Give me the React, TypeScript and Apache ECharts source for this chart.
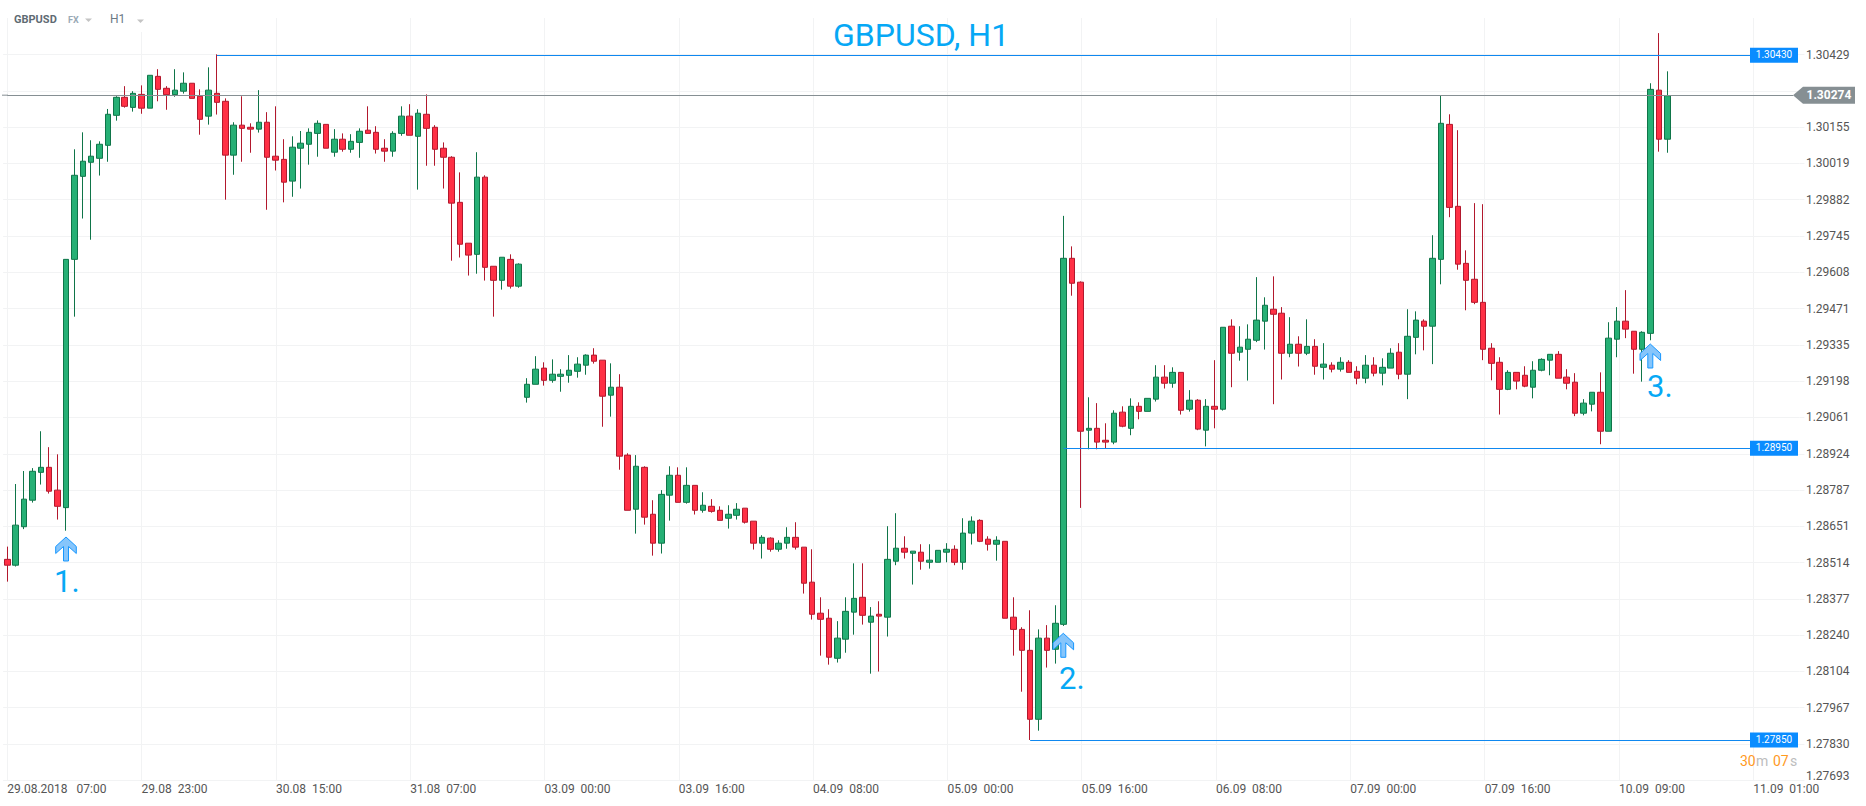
import React, { useEffect, useRef } from "react";
import * as echarts from "echarts";

// Prices are stored in points (1/100000).
const opens = [
128526,128504,128649,128749,128854,128873,128787,128721,129657,129970,
130023,130038,130087,130200,130268,130230,130279,130227,130347,130302,
130278,130291,130321,130272,130197,130283,130253,130050,130163,130155,
130148,130174,130046,130034,129952,130076,130091,130132,130166,130061,
130110,130072,130098,130144,130136,130076,130065,130132,130197,130121,
130204,130155,130076,130042,129872,129718,129676,129967,129631,129578,
129657,129556,129137,129186,129247,129201,129216,129220,129235,129258,
129296,129277,129145,129175,128919,128715,128873,128696,128587,128768,
128843,128741,128805,128711,128726,128711,128681,128692,128719,128670,
128587,128606,128564,128587,128609,128572,128440,128323,128304,128153,
128225,128327,128383,128289,128319,128308,128519,128568,128549,128553,
128515,128515,128553,128564,128515,128625,128673,128602,128583,128594,
128308,128262,128183,127923,128229,128187,128281,129661,129571,129013,
129020,128975,128968,129081,129020,129103,129084,129130,129213,129190,
129231,129092,129126,129013,129103,129092,129405,129307,129318,129352,
129424,129469,129454,129303,129337,129303,129329,129250,129258,129243,
129269,129235,129209,129258,129228,129247,129307,129224,129363,129424,
129405,129657,130166,129857,129642,129582,129495,129322,129269,129167,
129231,129220,129175,129239,129277,129299,129213,129194,129077,129111,
129156,129009,129356,129424,129386,129318,129378,130295,130110
];
const closes = [
128504,128655,128753,128858,128873,128783,128726,129657,129974,130027,
130046,130091,130204,130268,130234,130283,130227,130351,130298,130278,
130295,130321,130264,130185,130295,130249,130050,130163,130151,130148,
130174,130042,130031,129948,130080,130095,130136,130170,130076,130110,
130072,130102,130140,130132,130072,130065,130132,130197,130125,130208,
130151,130072,130042,129869,129714,129673,129967,129627,129578,129665,
129556,129639,129186,129243,129201,129224,129224,129239,129262,129296,
129273,129141,129175,128915,128711,128877,128685,128587,128771,128843,
128741,128805,128711,128730,128707,128673,128696,128715,128666,128587,
128609,128564,128587,128609,128572,128436,128319,128300,128157,128229,
128330,128379,128315,128312,128312,128526,128568,128553,128557,128519,
128523,128560,128564,128515,128625,128670,128594,128583,128598,128304,
128262,128183,127923,128229,128183,128285,129661,129567,129009,129020,
128968,128968,129077,129028,129103,129084,129133,129213,129190,129231,
129088,129126,129017,129103,129092,129401,129303,129326,129356,129428,
129484,129450,129303,129337,129303,129329,129254,129262,129243,129269,
129231,129209,129258,129228,129250,129303,129224,129367,129428,129405,
129661,130170,129853,129639,129578,129495,129318,129265,129167,129231,
129198,129179,129239,129280,129299,129209,129190,129077,129115,129156,
129009,129360,129424,129394,129318,129382,130298,130110,130274
];
const highs = [
128574,128810,128859,128870,129009,128949,128922,129657,130072,130136,
130106,130102,130224,130272,130310,130291,130313,130351,130374,130310,
130374,130362,130321,130298,130381,130430,130264,130174,130272,130170,
130295,130212,130234,130110,130121,130141,130151,130181,130166,130148,
130132,130129,130151,130234,130159,130110,130140,130234,130242,130223,
130279,130163,130098,130046,129985,129718,130061,129974,129631,129665,
129676,129642,129209,129292,129269,129280,129243,129296,129288,129299,
129322,129277,129265,129224,128926,128919,128877,128749,128787,128877,
128873,128873,128805,128779,128753,128726,128730,128738,128719,128670,
128617,128609,128598,128647,128666,128572,128564,128383,128338,128293,
128383,128511,128511,128346,128368,128651,128700,128613,128557,128583,
128583,128560,128587,128579,128681,128688,128677,128613,128613,128594,
128383,128270,128334,128262,128278,128353,129821,129706,129574,129137,
129115,129039,129088,129103,129133,129118,129133,129258,129258,129250,
129231,129164,129130,129130,129277,129401,129431,129405,129412,129590,
129514,129593,129477,129439,129367,129431,129356,129341,129269,129288,
129277,129254,129296,129288,129284,129322,129341,129469,129461,129431,
129748,130273,130204,130144,129691,129869,129865,129341,129288,129239,
129231,129254,129273,129284,129299,129311,129243,129228,129130,129156,
129231,129420,129477,129541,129386,129386,130321,130510,130366
];
const lows = [
128442,128499,128640,128740,128808,128774,128676,128634,129441,129811,
129731,129973,130025,130180,130229,130214,130206,130227,130253,130221,
130270,130282,130264,130127,130165,130203,129882,129976,130025,130059,
130135,129844,129992,129872,129893,129924,130014,130044,130076,130044,
130063,130059,130040,130132,130056,130025,130044,130123,130125,129920,
130010,130010,129924,129652,129664,129596,129603,129577,129441,129543,
129547,129550,129117,129186,129181,129192,129158,129192,129211,129222,
129264,129026,129064,128864,128711,128623,128657,128540,128548,128672,
128741,128736,128695,128702,128702,128673,128642,128676,128661,128563,
128529,128555,128555,128566,128563,128397,128299,128163,128129,128137,
128174,128242,128280,128095,128103,128235,128504,128529,128431,128487,
128491,128515,128515,128504,128487,128582,128591,128559,128521,128304,
128163,128027,127845,127880,128118,128133,128275,129520,128720,128941,
128941,128945,128960,129024,128994,129054,129084,129121,129170,129173,
129072,129083,129013,128952,129020,129087,129175,129275,129200,129345,
129317,129111,129204,129288,129253,129296,129222,129204,129231,129234,
129231,129186,129190,129216,129182,129247,129205,129130,129299,129314,
129262,129563,129816,129618,129465,129488,129277,129201,129072,129164,
129167,129175,129133,129235,129220,129209,129167,129066,129069,129084,
128960,129009,129288,129360,129226,129196,129352,130063,130059
];

const tickLabels = [
  "29.08.2018   07:00", "29.08  23:00", "30.08  15:00", "31.08  07:00", "03.09  00:00",
  "03.09  16:00", "04.09  08:00", "05.09  00:00", "05.09  16:00", "06.09  08:00",
  "07.09  00:00", "07.09  16:00", "10.09  09:00", "11.09  01:00",
];
const yTicks = [
  1.27693, 1.2783, 1.27967, 1.28104, 1.2824, 1.28377, 1.28514, 1.28651, 1.28787, 1.28924, 1.29061,
  1.29198, 1.29335, 1.29471, 1.29608, 1.29745, 1.29882, 1.30019, 1.30155, 1.30292, 1.30429,
];
const hiddenYLabel = 1.30292; // covered by the last-price tag in the reference
const yLabelValues = yTicks.filter((v) => v !== hiddenYLabel);
const levelStarts = [25, 126, 122];
const levelPrices = [1.30427, 1.28945, 1.27845];
const levelLabels = ["1.30430", "1.28950", "1.27850"];
const lastPrice = 1.30276;
const lastLabel = "1.30274";

const BARS_PER_TICK = 16;
const SLOT_COUNT = 214;
const categories = Array.from({ length: SLOT_COUNT }, (_, i) => String(i));
const candles = opens.map((o, i) => [o / 1e5, closes[i] / 1e5, lows[i] / 1e5, highs[i] / 1e5]);
const Y_MIN = 1.27693;
const Y_MAX = 1.30567;

const BLUE = "#06a8f5";
const arrowPts = (x: number, y: number) =>
  [[0, 0], [10.3, 9.5], [10.3, 16.5], [2.5, 9.5], [2.5, 24], [-2.5, 24], [-2.5, 9.5], [-10.3, 16.5], [-10.3, 9.5]].map(
    ([a, b]) => [x + a, y + b]
  );
const arrow = (x: number, y: number) => ({
  type: "polygon",
  z: 20,
  shape: { points: arrowPts(x, y) },
  style: { fill: "#86c5fb", stroke: "#1797ff", lineWidth: 1 },
});
const txt = (text: string, x: number, y: number, fontSize: number, fill: string, extra: any = {}) => ({
  type: "text",
  z: 30,
  x,
  y,
  style: { text, fill, fontSize, fontFamily: "Roboto", textVerticalAlign: "middle", ...extra },
});

export default function App() {
  const ref = useRef<HTMLDivElement>(null);
  useEffect(() => {
    const chart = echarts.init(ref.current!, null, { renderer: "svg" });
    const showTick = (i: number) => i % BARS_PER_TICK === 0;
    const grey = { color: "#868f93", width: 1, type: "solid" };
    const blue = { color: "#0f88f0", width: 1, type: "solid" };
    chart.setOption({
      animation: false,
      textStyle: { fontFamily: "Roboto" },
      grid: [
        { left: 3.1, top: 18, width: 1796.3, height: 762.3 },
        { left: 3.108, top: 18, width: 1794.2, height: 762.3 },
      ],
      xAxis: [
        {
          type: "category",
          gridIndex: 0,
          data: categories,
          boundaryGap: true,
          axisLine: { show: false },
          axisTick: { show: false },
          axisLabel: {
            interval: (i: number) => showTick(i),
            formatter: (_: string, i: number) => tickLabels[i / BARS_PER_TICK] ?? "",
            align: "left",
            margin: 3,
            color: "#555",
            fontSize: 12,
            fontFamily: "Roboto",
            hideOverlap: false,
          },
          splitLine: {
            show: true,
            alignWithLabel: true,
            interval: (i: number) => showTick(i),
            lineStyle: { color: "#f2f3f4", width: 1 },
          },
        },
        {
          type: "category",
          gridIndex: 1,
          data: categories,
          boundaryGap: true,
          show: false,
        },
      ],
      yAxis: [
        {
          type: "value",
          gridIndex: 0,
          position: "right",
          min: Y_MIN,
          max: Y_MAX,
          scale: true,
          axisLine: { show: false },
          axisTick: { show: true, length: 5, customValues: yTicks, lineStyle: { color: "#f2f3f4" } },
          axisLabel: {
            customValues: yLabelValues,
            formatter: (v: number) => (v === yTicks[0] ? `{low|${v.toFixed(5)}}` : v.toFixed(5)),
            rich: { low: { padding: [0, 0, 9, 0], color: "#555", fontSize: 12, fontFamily: "Roboto" } },
            margin: 6.5,
            color: "#555",
            fontSize: 12,
            fontFamily: "Roboto",
            showMinLabel: true,
            showMaxLabel: true,
          },
          splitLine: { show: true, lineStyle: { color: "#f2f3f4", width: 1 } },
        },
        {
          type: "value",
          gridIndex: 1,
          min: Y_MIN,
          max: Y_MAX,
          scale: true,
          show: false,
          splitLine: { show: false },
        },
      ],
      series: [
        {
          type: "line",
          xAxisIndex: 1,
          yAxisIndex: 1,
          z: 1,
          data: [],
          silent: true,
          showSymbol: false,
          markLine: {
            silent: true,
            symbol: "none",
            animation: false,
            label: { show: false },
            data: [
              [
                { coord: [0, lastPrice], lineStyle: grey },
                { coord: [213, lastPrice] },
              ],
              ...levelPrices.map((p, i) => [
                { coord: [levelStarts[i], p], lineStyle: blue },
                { coord: [208, p] },
              ]),
            ],
          },
        },
        {
          type: "candlestick",
          xAxisIndex: 1,
          yAxisIndex: 1,
          z: 2,
          data: candles,
          barWidth: 6,
          itemStyle: {
            color: "#26b075",
            color0: "#ff3045",
            borderColor: "#0f7549",
            borderColor0: "#b2182d",
            borderWidth: 1,
          },
        },
      ],
    });

    const py = (v: number) => chart.convertToPixel({ yAxisIndex: 1 }, v) as number;
    const lastY = py(lastPrice);
    chart.setOption({
      graphic: [
        { type: "rect", z: 15, shape: { x: 12, y: 0, width: 200, height: 32 }, style: { fill: "#fff" } },
        { type: "line", z: 1, shape: { x1: 2, y1: lastY, x2: 8, y2: lastY }, style: { stroke: "#868f93", lineWidth: 1 } },
        txt("GBPUSD", 14, 19, 11, "#5f6b73", { fontWeight: 700 }),
        txt("FX", 68, 19.5, 9, "#9aaab6", { fontWeight: 700 }),
        { type: "polygon", z: 30, shape: { points: [[85, 18.5], [92, 18.5], [88.5, 22]] }, style: { fill: "#c4c4c4" } },
        txt("H1", 110, 19, 12, "#6c7a85"),
        { type: "polygon", z: 30, shape: { points: [[137, 19.5], [144, 19.5], [140.5, 23]] }, style: { fill: "#c4c4c4" } },
        txt("GBPUSD, H1", 833, 34.5, 32, BLUE),
        ...levelPrices.flatMap((p, i) => {
          const y = py(p);
          return [
            { type: "rect", z: 25, shape: { x: 1750, y: y - 7.5, width: 48, height: 15 }, style: { fill: "#0a8cff" } },
            txt(levelLabels[i], 1774, y - 0.5, 10, "#fff", { textAlign: "center" }),
          ];
        }),
        {
          type: "polygon",
          z: 25,
          shape: {
            points: [[1793, lastY], [1803, lastY - 8.5], [1855, lastY - 8.5], [1855, lastY + 8.5], [1803, lastY + 8.5]],
          },
          style: { fill: "#868f93" },
        },
        txt(lastLabel, 1806.5, lastY, 12, "#fff", { fontWeight: 700 }),
        arrow(66, 537),
        txt("1.", 54, 581, 31, BLUE),
        arrow(1063.3, 633.3),
        txt("2.", 1059, 678.5, 31, BLUE),
        arrow(1650.3, 344),
        txt("3.", 1647, 386, 31, BLUE),
        txt("30", 1740, 760.5, 14, "#ff9a1f"),
        txt("m", 1756, 760.5, 14, "#bdbdbd"),
        txt("07", 1773, 760.5, 14, "#ff9a1f"),
        txt("s", 1790, 760.5, 14, "#bdbdbd"),
      ],
    });
    return () => chart.dispose();
  }, []);
  return <div ref={ref} style={{ position: "fixed", left: 0, top: 0, width: 1866, height: 806, background: "#fff" }} />;
}
